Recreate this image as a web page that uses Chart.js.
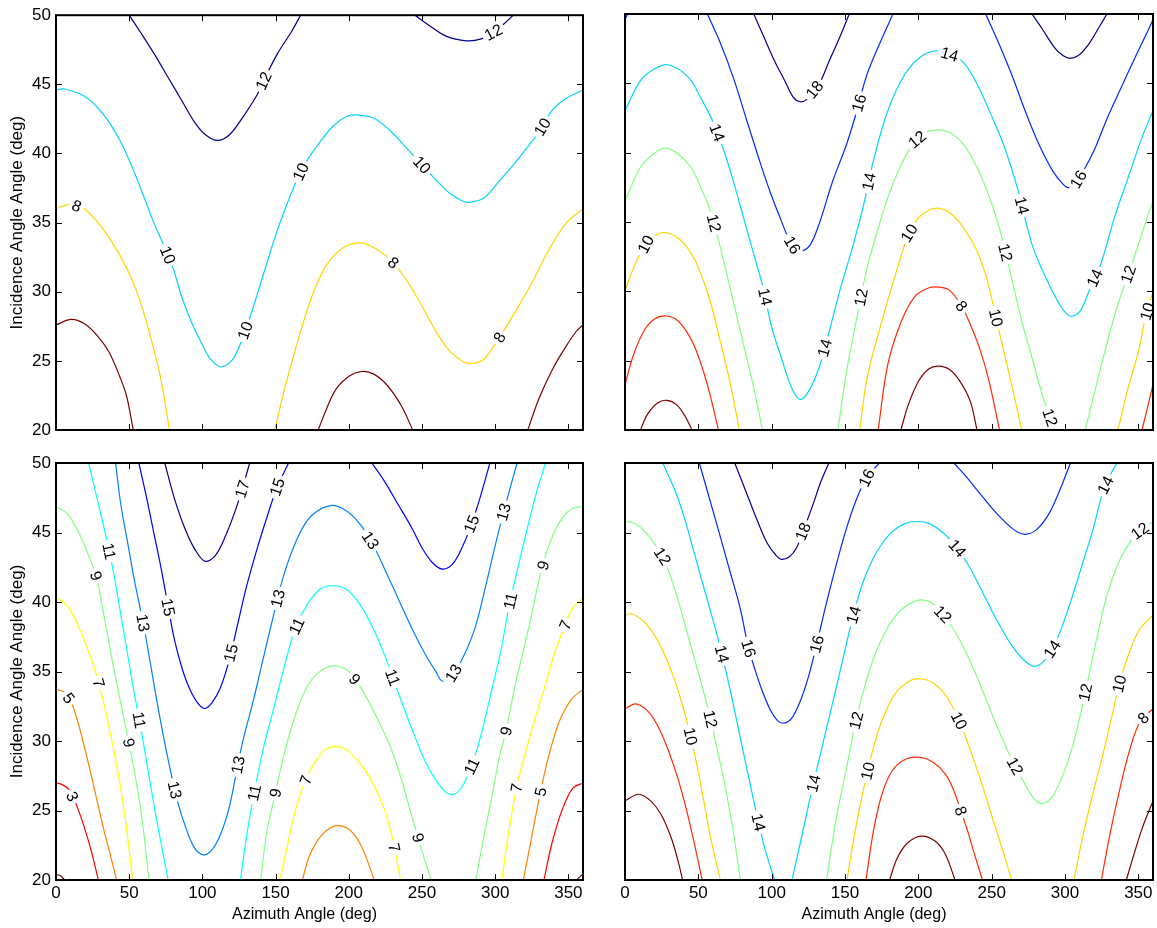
<!DOCTYPE html>
<html><head><meta charset="utf-8">
<script src="https://cdn.jsdelivr.net/npm/chart.js@4.4.0/dist/chart.umd.min.js"></script>
<style>
html,body{margin:0;padding:0;background:#fff;width:1157px;height:928px;overflow:hidden}
canvas{position:absolute;left:0;top:0}
</style></head><body>
<canvas id="c1" width="1157" height="928"></canvas>
<canvas id="c2" width="1157" height="928"></canvas>
<canvas id="c3" width="1157" height="928"></canvas>
<canvas id="c4" width="1157" height="928"></canvas>
<script>
// ---------- axis ticks / titles ----------
const xTickValues = [0, 50, 100, 150, 200, 250, 300, 350];
const yTickValues = [20, 25, 30, 35, 40, 45, 50];
const xTitle = 'Azimuth Angle (deg)';
const yTitle = 'Incidence Angle Angle (deg)';

// ---------- panel 1 (top-left) contours: [azimuth, incidence] ----------
const p1_6a = [[0,27.6],[10.6,28.0],[20,27.64],[29.3,26.68],[36.4,25.6],[43.4,23.9],[48.1,22.5],[52.8,20]];
const p1_6b = [[179.1,20],[184.3,21.4],[191.3,22.96],[200.7,23.92],[208.9,24.23],[217.1,24.04],[226.5,23.2],[235.9,21.75],[243.7,20]];
const p1_6c = [[322.3,20],[329.8,22.24],[339.2,24.4],[348.6,26.08],[355.6,27.16],[360,27.6]];
const p1_8a = [[0,36.0],[6,36.25],[12,36.3],[20,35.95],[31.7,34.6],[43.4,32.7],[52.8,30.65],[59.9,28.5],[66.9,25.8],[71.6,23.7],[77.5,20]];
const p1_8b = [[149.5,20],[156.1,22.96],[165.5,26.56],[174.9,29.69],[184.3,31.85],[196.0,33.17],[207.7,33.53],[219.5,33.05],[230.5,32.09],[240.6,30.65],[250.0,28.97],[259.4,27.16],[268.8,25.72],[278.2,24.93],[284.0,24.81],[292.3,25.12],[302.8,26.68],[313.4,28.49],[325.1,30.65],[336.9,33.05],[348.6,34.98],[360,36.0]];
const p1_10 = [[0,44.59],[5.9,44.66],[20.0,44.11],[31.7,42.91],[43.4,40.99],[52.8,38.82],[59.9,36.9],[66.9,34.98],[73.9,33.29],[80.3,31.61],[85.7,29.69],[92.7,27.76],[99.8,26.2],[105.6,25.12],[112.7,24.57],[120.9,25.12],[127.9,26.8],[135.0,28.97],[142.0,31.37],[151.4,34.5],[160.8,37.14],[167.8,38.82],[177.2,40.38],[189.0,41.95],[198.4,42.67],[205.4,42.79],[217.1,42.55],[228.9,41.59],[240.6,40.26],[250.0,39.18],[259.4,38.1],[268.8,37.14],[278.2,36.54],[283.3,36.47],[292.3,36.78],[301.6,37.86],[313.4,39.3],[325.1,40.87],[331.0,41.7],[339.2,43.15],[348.6,43.99],[360,44.59]];
const p1_12a = [[50.0,50],[57.5,48.8],[66.9,47.24],[76.3,45.55],[85.7,43.87],[95.1,42.19],[102.1,41.35],[110.3,40.94],[118.5,41.35],[127.9,42.67],[137.3,44.23],[142.0,45.31],[151.4,47.24],[160.8,48.8],[167.1,50]];
const p1_12b = [[245.3,50],[254.7,49.28],[266.4,48.49],[280.5,48.15],[289.9,48.27],[299.3,48.8],[306.3,49.4],[312.2,50]];
// [level, azimuth, incidence]
const p1Labels = [[12,140.8,45.3],[12,298.1,48.9],[10,77.5,32.7],[10,129.1,27.2],[10,166.7,38.7],[10,251.2,39.3],[10,331.0,42.0],[8,14.1,36.2],[8,230.5,32.1],[8,302.8,26.7]];

// ---------- panel 2 (top-right) ----------
const p2_18a = [[87.8,50],[94.8,48.32],[101.9,46.63],[108.9,45.19],[114.8,43.98],[119.4,43.67],[124.1,43.86],[132.3,44.95],[139.3,46.63],[146.4,48.32],[152.9,50]];
const p2_18b = [[277.5,50],[284.5,48.92],[292.7,47.6],[298.6,47.0],[303.3,46.8],[309.1,47.0],[316.2,47.83],[323.2,49.04],[328.6,50]];
const p2_16a = [[56.2,50],[64.4,48.07],[73.8,45.43],[83.1,42.3],[92.5,39.17],[99.5,37.0],[106.6,35.08],[111.2,33.87],[115.5,33.1],[120.6,32.91],[126.5,33.39],[132.3,34.84],[141.7,37.97],[151.1,40.61],[158.1,43.02],[165.1,45.67],[174.5,48.07],[182.7,50]];
const p2_16b = [[245.9,50],[254.1,48.07],[263.5,45.67],[272.8,43.02],[282.2,40.61],[291.6,38.69],[298.6,37.73],[302.1,37.48],[307,37.7],[312.6,38.69],[319.7,40.13],[329.0,42.54],[338.4,44.71],[347.8,46.87],[357.1,48.92],[360,49.6]];
const p2_16c = [[0,49.6],[1.8,50]];
const p2_14 = [[0,43.02],[10.5,45.19],[19.9,46.03],[29.3,46.34],[43.3,45.43],[52.7,43.74],[59.7,42.3],[66.7,40.37],[73.8,37.97],[80.8,35.32],[87.8,32.67],[94.8,30.02],[99.5,27.62],[106.6,25.21],[113.6,23.05],[119.4,22.2],[125.3,22.8],[132.3,24.49],[139.3,27.14],[146.4,30.02],[155.7,33.39],[162.8,36.28],[169.8,39.6],[179.2,43.02],[190.9,45.67],[202.6,46.99],[213.1,47.35],[221.3,47.1],[230.7,46.51],[240.0,44.95],[249.4,42.78],[258.8,40.37],[268.1,37.24],[277.5,33.39],[286.9,30.99],[296.3,29.06],[303.3,28.22],[310.3,28.58],[317.3,30.26],[324.4,31.95],[333.7,35.32],[343.1,38.21],[352.5,41.1],[360,43.02]];
const p2_12a = [[0,36.5],[10.5,38.93],[19.9,39.94],[28.8,40.33],[43.3,39.17],[52.7,37.24],[59.7,35.32],[66.7,32.43],[73.8,29.3],[80.8,26.17],[87.8,23.05],[93.7,20]];
const p2_12b = [[145.2,20],[151.1,24.24],[158.1,28.1],[165.1,31.71],[172.1,34.36],[179.2,36.76],[188.5,39.17],[197.9,40.85],[204.9,41.46],[213.1,41.65],[221.3,41.46],[230.7,40.61],[240.0,38.93],[249.4,36.52],[256.4,34.12],[263.5,30.99],[270.5,27.86],[277.5,25.21],[284.5,22.56],[292.7,20]];
const p2_12c = [[313.8,20],[322,23.5],[329,26.4],[336.1,29.06],[343.1,31.2],[350.1,33.4],[356,35.3],[360,36.5]];
const p2_10a = [[0,30.02],[5.9,31.71],[14.1,33.39],[19.9,34.0],[28.1,34.24],[38.6,33.63],[48.0,32.19],[57.4,29.54],[64.4,26.65],[71.4,23.53],[78.0,20]];
const p2_10b = [[160.0,20],[165.1,23.77],[174.5,27.62],[183.8,30.99],[193.2,34.12],[200.2,35.32],[207.3,35.85],[213.8,35.99],[221.3,35.68],[230.7,34.6],[240.0,32.91],[247.1,30.75],[252.9,28.1],[258.8,25.45],[264.6,22.8],[270.5,20]];
const p2_10c = [[336.1,20],[343.1,23.05],[350.1,25.69],[354.8,28.1],[360,30.02]];
const p2_8a = [[0,23.29],[5.9,25.45],[12.9,27.14],[19.9,27.98],[28.1,28.22],[36.3,27.86],[45.7,26.41],[52.7,24.49],[58.5,22.32],[63.7,20]];
const p2_8b = [[172.6,20],[179.2,24.73],[188.5,27.86],[197.9,29.66],[207.3,30.26],[213.8,30.31],[221.3,30.07],[229.5,28.94],[235.4,27.62],[242.4,25.69],[248.2,23.53],[255.3,20]];
const p2_8c = [[352.5,20],[356.2,21.6],[360,23.29]];
const p2_6a = [[10.5,20],[15.2,21.11],[22.2,21.95],[28.6,22.14],[35.1,21.83],[41.0,20.99],[45.7,20]];
const p2_6b = [[188.1,20],[193.2,21.83],[200.2,23.53],[207.3,24.42],[213.8,24.61],[221.3,24.37],[228.3,23.53],[235.4,22.08],[240.0,20]];
const p2Labels = [[18,128.8,44.58],[16,158.1,43.62],[16,114.8,33.39],[16,309.1,38.09],[14,221.3,47.11],[14,63.2,41.46],[14,163.9,37.97],[14,92.5,29.54],[14,135.8,25.93],[14,269.3,36.16],[14,319.7,30.99],[12,62.1,34.96],[12,199.1,40.97],[12,161.6,29.54],[12,258.8,32.79],[12,289.2,20.88],[12,343.1,31.23],[10,14.1,33.39],[10,193.2,34.24],[10,252.9,28.1],[10,354.8,28.58],[8,229.5,28.94]];

// ---------- panel 3 (bottom-left) ----------
const p3_1a = [[0,20.41],[3.1,20.3],[5.9,20]];
const p3_1b = [[355.6,20],[357.9,20.24],[360,20.41]];
const p3_3a = [[0,26.98],[4.2,26.86],[8.9,26.5],[14.8,25.17],[19.5,23.73],[24.2,22.05],[28.9,20]];
const p3_3b = [[333.3,20],[339.1,22.77],[346.2,25.17],[353.2,26.62],[360,26.98]];
const p3_5a = [[0,33.71],[5.4,33.55],[10,32.9],[14.8,31.43],[20.7,29.02],[26.6,26.38],[32.4,23.73],[37.1,21.81],[41.4,20]];
const p3_5b = [[319.2,20],[323.5,22.3],[327.5,24.5],[331.5,26.6],[336.8,29.0],[343.8,31.4],[352.1,33.0],[360,33.71]];
const p3_5c = [[168.3,20],[173.4,21.81],[181.7,23.25],[191.1,23.9],[200.5,23.61],[208.7,22.41],[217.4,20]];
const p3_7a = [[0,40.28],[5.4,39.97],[12.5,38.89],[19.5,37.2],[25.4,35.5],[30.1,33.8],[34.8,31.7],[39.5,29.3],[44.2,26.6],[48.2,23.7],[52.4,20]];
const p3_7b = [[153.0,20],[158.2,22.53],[164.0,25.17],[171.1,27.34],[178.1,28.66],[184.0,29.38],[191.1,29.62],[198.1,29.38],[207.5,28.42],[216.9,26.86],[224.0,25.17],[228.7,23.49],[232.2,21.81],[235.3,20]];
const p3_7c = [[304.6,20],[308.6,23.01],[314.5,26.62],[320.3,29.02],[327.4,31.67],[334.4,34.07],[340.3,36.24],[346.2,37.92],[353.2,39.61],[360,40.28]];
const p3_9a = [[0,46.87],[7.8,46.34],[14.8,45.14],[21.9,43.46],[27.7,41.77],[31.3,39.85],[36.0,37.2],[40.7,34.56],[45.4,32.15],[50.1,29.74],[54.8,27.1],[59.0,24.21],[63.5,20]];
const p3_9b = [[139.8,20],[144.1,23.49],[149.9,26.26],[155.8,29.02],[162.9,31.67],[171.1,33.83],[179.3,34.92],[188.7,35.4],[198.1,35.16],[205.2,34.32],[212.2,33.11],[220.4,31.43],[228.7,29.5],[235.7,27.34],[242.8,24.69],[247.5,23.01],[252.2,21.33],[256.4,20]];
const p3_9c = [[286.7,20],[292.1,23.01],[298.0,26.14],[302.7,28.78],[307.4,30.71],[313.3,33.83],[319.2,36.48],[325.0,39.13],[330.9,42.01],[338.0,44.42],[346.2,46.1],[353.2,46.75],[360,46.87]];
const p3_11a = [[22.3,50],[28.9,47.07],[34.8,44.42],[39.5,42.01],[44.2,39.13],[48.9,36.24],[53.6,33.35],[58.3,30.71],[63.0,27.82],[67.7,24.93],[72.4,22.29],[76.6,20]];
const p3_11b = [[126.0,20],[130.0,23.01],[134.7,25.9],[141.7,29.5],[148.8,32.39],[155.8,35.28],[162.9,37.92],[171.1,39.73],[180.5,40.93],[188.7,41.17],[198.1,40.93],[207.5,39.85],[216.9,38.04],[225.1,36.0],[233.4,33.59],[242.8,30.95],[252.2,28.54],[261.6,26.86],[269.8,26.14],[276.8,26.62],[283.9,28.18],[291.0,30.71],[298.0,33.83],[303.9,36.48],[309.8,39.85],[315.6,42.49],[322.7,45.62],[328.6,48.03],[334.4,50]];
const p3_13 = [[40.7,50],[44.2,47.07],[48.9,44.3],[53.6,41.53],[59.5,38.53],[64.2,35.76],[68.9,32.87],[73.6,30.23],[78.3,27.82],[83.0,25.66],[88.8,23.73],[94.7,22.29],[100.6,21.81],[106.5,22.17],[112.3,23.25],[118.2,25.17],[122.9,27.58],[127.6,29.99],[134.7,32.87],[141.7,36.0],[148.8,39.13],[155.8,42.01],[165.2,44.66],[174.6,46.22],[187.5,46.94],[198.1,46.58],[207.5,45.62],[215.7,44.3],[224.0,42.49],[233.4,40.33],[242.8,38.16],[252.2,36.24],[259.2,35.04],[263.9,34.32],[271.0,34.8],[278.0,36.0],[286.3,38.16],[293.3,41.05],[299.2,43.7],[305.1,46.22],[309.8,48.03],[315.0,50]];
const p3_15a = [[56.6,50],[61.8,47.55],[66.5,45.14],[71.2,42.74],[75.9,40.09],[80.6,37.44],[85.3,35.52],[90.0,34.07],[95.9,32.87],[101.3,32.34],[106.5,32.75],[112.3,33.83],[118.2,35.76],[124.1,38.41],[130.0,41.05],[137.0,43.7],[144.1,46.1],[151.1,48.27],[158.9,50]];
const p3_15b = [[215.7,50],[224.0,48.75],[233.4,47.07],[242.8,45.38],[249.8,43.94],[256.9,42.86],[263.9,42.37],[271.0,42.74],[278.0,44.06],[283.9,45.62],[289.8,47.55],[296.4,50]];
const p3_17 = [[74.3,50],[80.6,47.55],[87.7,45.38],[94.7,43.82],[101.8,42.93],[108.8,43.34],[115.9,44.78],[122.9,46.7],[127.6,48.27],[132.3,50]];
const p3Labels = [[17,126.4,48.15],[15,151.1,48.27],[15,75.9,39.61],[15,118.2,36.36],[15,283.9,45.62],[13,60.6,38.53],[13,81.8,26.5],[13,122.9,28.3],[13,148.8,40.33],[13,214.6,44.42],[13,271.0,34.92],[13,306.2,46.46],[11,38.3,43.7],[11,59.5,31.55],[11,135.8,26.26],[11,164.0,38.28],[11,229.8,34.56],[11,283.9,28.18],[11,309.8,40.09],[9,27.7,41.89],[9,50.1,29.87],[9,149.9,26.26],[9,204.0,34.44],[9,246.3,23.01],[9,307.4,30.71],[9,333.3,42.61],[7,30.1,34.2],[7,169.9,27.22],[7,229.8,22.29],[7,314.5,26.62],[7,343.8,38.53],[5,8.9,33.11],[5,329.7,26.38],[3,11.3,26.02]];

// ---------- panel 4 (bottom-right) ----------
const p4_18 = [[74.8,50],[82.9,47.83],[90.0,45.91],[97.0,44.22],[102.8,43.38],[106.8,43.07],[112.1,43.26],[116.8,43.86],[122.7,45.43],[128.5,47.11],[133.2,48.56],[139.0,50]];
const p4_16a = [[50.7,50],[57.2,47.59],[64.3,44.95],[71.3,42.3],[78.3,39.65],[84.1,36.76],[88.8,35.08],[93.5,33.63],[99.3,32.19],[104.0,31.47],[108.2,31.28],[113.3,31.59],[119.2,32.79],[125.0,34.6],[130.8,37.0],[136.7,39.65],[143.7,42.54],[150.7,45.19],[157.7,47.35],[164.7,48.92],[173.4,50]];
const p4_16b = [[224.3,50],[232.5,49.04],[241.8,47.83],[251.2,46.63],[260.5,45.62],[267.5,45.04],[273.4,44.87],[280.4,45.19],[288.6,46.27],[295.6,47.83],[300.2,49.04],[303.7,50]];
const p4_14a = [[25.7,50],[33.9,48.07],[40.9,45.91],[47.9,43.26],[54.9,40.61],[61.9,37.97],[66.6,36.04],[71.3,33.87],[77.1,30.99],[82.9,28.1],[88.8,25.21],[94.6,22.56],[99.3,20.88],[102.1,20]];
const p4_14b = [[113.8,20],[120.3,23.04],[127.3,26.41],[134.3,29.54],[141.4,32.67],[148.4,35.8],[155.4,38.93],[162.4,41.46],[171.7,43.62],[181.1,44.95],[190.4,45.62],[199.3,45.79],[207.9,45.62],[217.3,44.95],[226.6,43.86],[234.8,42.54],[244.2,40.61],[253.5,38.69],[262.9,37.0],[271.0,35.92],[279.2,35.37],[286.2,35.8],[292.1,36.76],[297.9,38.21],[304.9,40.37],[312.0,42.78],[319.0,45.19],[327.1,48.32],[335.3,50]];
const p4_12a = [[0,45.79],[4.7,45.74],[10.5,45.38],[17.5,44.58],[25.7,43.26],[30.4,42.06],[36.2,40.13],[43.2,37.48],[50.2,34.84],[57.2,32.07],[63.1,29.3],[68.9,26.41],[74.1,23.29],[78.7,20]];
const p4_12b = [[137.4,20],[143.7,24.24],[150.7,27.86],[156.5,30.99],[162.4,33.51],[169.4,35.92],[178.7,38.09],[188.1,39.41],[200.2,40.13],[209.1,39.94],[217.3,39.05],[227.8,37.36],[237.1,35.32],[246.5,32.91],[255.8,30.5],[265.2,28.34],[273.4,26.77],[279.2,25.81],[284.3,25.5],[290.9,25.93],[297.9,27.38],[304.9,29.54],[310.7,31.95],[316.6,34.84],[322.4,37.73],[328.3,40.37],[335.3,42.54],[342.3,43.98],[350.5,45.07],[360,45.79]];
const p4_10a = [[0,39.05],[3.5,39.17],[10.5,38.81],[18.7,37.85],[25.7,36.52],[32.7,34.72],[38.6,32.79],[44.4,30.5],[49.1,28.22],[53.7,25.69],[58.4,23.04],[65.0,20]];
const p4_10b = [[151.4,20],[156.5,23.29],[162.4,26.41],[168.2,29.06],[175.2,31.47],[183.4,33.27],[192.8,34.24],[200.9,34.48],[210.3,34.16],[219.6,33.15],[227.8,31.47],[234.8,29.54],[243.0,27.02],[251.2,24.24],[257.0,22.32],[263.6,20]];
const p4_10c = [[306.1,20],[311.9,23.04],[318.9,26.17],[325.9,29.06],[331.8,31.71],[337.6,34.36],[343.5,36.28],[350.5,37.97],[360,39.05]];
const p4_8a = [[0,32.31],[7.0,32.67],[15.2,32.19],[22.2,31.11],[29.2,29.42],[36.2,27.26],[42.1,24.97],[47.4,22.56],[52.6,20]];
const p4_8b = [[164.3,20],[169.4,23.53],[175.2,26.17],[182.2,27.86],[191.6,28.7],[201.6,28.82],[210.3,28.46],[218.5,27.62],[224.3,26.41],[229.0,24.97],[233.6,23.53],[238.3,21.84],[243.7,20]];
const p4_8c = [[324.8,20],[330.6,23.27],[337.6,26.65],[344.6,29.54],[351.6,31.47],[360,32.31]];
const p4_6a = [[0,25.69],[9.3,26.17],[17.5,25.69],[24.5,24.73],[31.5,23.04],[36.2,21.36],[39.3,20]];
const p4_6b = [[180.4,20],[185.7,21.6],[192.8,22.68],[202.1,23.16],[211.4,22.8],[218.5,21.84],[225.0,20]];
const p4_6c = [[341.8,20],[347.0,21.84],[352.8,23.77],[360,25.69]];
const p4Labels = [[18,121.5,45.07],[16,164.7,48.92],[16,84.1,36.64],[16,129.7,37.0],[14,66.6,36.28],[14,90.0,24.13],[14,130.8,26.89],[14,156.5,39.05],[14,226.6,43.86],[14,290.9,36.64],[14,327.1,48.44],[12,26.9,43.38],[12,58.4,31.59],[12,157.7,31.47],[12,217.3,39.17],[12,266.4,28.22],[12,313.1,33.51],[12,350.5,45.19],[10,46.7,30.38],[10,164.7,27.86],[10,227.8,31.47],[10,336.4,34.12],[8,229.0,24.97],[8,354.0,31.59]];

// ---------- colours per level (reversed jet) ----------
const colors7 = {6:'#800000',8:'#ff2a00',10:'#ffd400',12:'#80ff80',14:'#00d4ff',16:'#002aff',18:'#00008f'};
const colors4 = {6:'#800000',8:'#ffd400',10:'#00d4ff',12:'#00008f'};
const colors9 = {1:'#800000',3:'#ff0000',5:'#ff8000',7:'#ffff00',9:'#80ff80',11:'#00ffff',13:'#0080ff',15:'#0000ff',17:'#00008f'};

const FONT = "'Liberation Sans', Arial, Helvetica, sans-serif";
const W = 1157, H = 928;

const axesBox = {
  id: 'axesBox',
  afterDraw(chart) {
    const {ctx, chartArea: a, scales: {x, y}} = chart;
    ctx.save();
    ctx.strokeStyle = '#000';
    ctx.lineWidth = 1;
    ctx.beginPath();
    x.ticks.forEach(t => {
      const px = Math.round(x.getPixelForValue(t.value)) + 0.5;
      ctx.moveTo(px, a.bottom); ctx.lineTo(px, a.bottom - 6);
      ctx.moveTo(px, a.top); ctx.lineTo(px, a.top + 6);
    });
    y.ticks.forEach(t => {
      const py = Math.round(y.getPixelForValue(t.value)) + 0.5;
      ctx.moveTo(a.left, py); ctx.lineTo(a.left + 6, py);
      ctx.moveTo(a.right, py); ctx.lineTo(a.right - 6, py);
    });
    ctx.stroke();
    ctx.lineWidth = 2;
    ctx.strokeRect(a.left, a.top, a.right - a.left, a.bottom - a.top);
    // x-axis title (bottom panels), slightly left of centre as in the original
    const xt = chart.options.plugins.axesBox;
    if (xt && xt.xTitle) {
      ctx.fillStyle = '#000';
      ctx.font = '16px ' + FONT;
      ctx.textAlign = 'center';
      ctx.textBaseline = 'middle';
      ctx.fillText(xt.xTitle, (a.left + a.right) / 2 - 15, a.bottom + 35);
    }
    ctx.restore();
  }
};

const contourLabels = {
  id: 'contourLabels',
  afterDatasetsDraw(chart) {
    const cfg = chart.options.plugins.contourLabels;
    if (!cfg) return;
    const {ctx, scales: {x, y}} = chart;
    ctx.save();
    ctx.font = '16px ' + FONT;
    ctx.textAlign = 'center';
    ctx.textBaseline = 'middle';
    for (const [lvl, az, inc] of cfg.labels) {
      const px = x.getPixelForValue(az), py = y.getPixelForValue(inc);
      let best = null;
      for (const [l, pts] of cfg.lines) {
        if (l !== lvl) continue;
        for (let i = 0; i < pts.length - 1; i++) {
          const ax = x.getPixelForValue(pts[i][0]), ay = y.getPixelForValue(pts[i][1]);
          const bx = x.getPixelForValue(pts[i+1][0]), by = y.getPixelForValue(pts[i+1][1]);
          const dx = bx - ax, dy = by - ay, L2 = dx*dx + dy*dy;
          let t = L2 ? ((px-ax)*dx + (py-ay)*dy) / L2 : 0;
          t = Math.max(0, Math.min(1, t));
          const qx = ax + t*dx, qy = ay + t*dy;
          const d = (qx-px)*(qx-px) + (qy-py)*(qy-py);
          if (!best || d < best.d) best = {d, qx, qy, ang: Math.atan2(dy, dx)};
        }
      }
      if (!best) continue;
      let a = best.ang;
      if (a > Math.PI/2) a -= Math.PI;
      if (a < -Math.PI/2) a += Math.PI;
      const txt = String(lvl);
      const w = ctx.measureText(txt).width;
      ctx.save();
      ctx.translate(best.qx, best.qy);
      ctx.rotate(a);
      ctx.fillStyle = '#fff';
      ctx.fillRect(-w/2 - 3, -6, w + 6, 12);
      ctx.fillStyle = '#000';
      ctx.fillText(txt, 0, 1);
      ctx.restore();
    }
    ctx.restore();
  }
};

function makePanel(id, area, lines, labels, colors, showX, showY) {
  const yW = showY ? 56 : 0;
  const xH = showX ? 48 : 0;
  const datasets = lines.map(([lvl, pts]) => ({
    data: pts.map(p => ({x: p[0], y: p[1]})),
    borderColor: colors[lvl],
    borderWidth: 1.2,
    pointRadius: 0,
    showLine: true,
    tension: 0.35,
    fill: false,
    clip: 0
  }));
  new Chart(document.getElementById(id), {
    type: 'scatter',
    data: {datasets},
    plugins: [contourLabels, axesBox],
    options: {
      responsive: false,
      animation: false,
      events: [],
      devicePixelRatio: 1,
      layout: {padding: {left: area.l - yW, top: area.t, right: W - area.r, bottom: H - area.b - xH}},
      plugins: {legend: {display: false}, tooltip: {enabled: false},
        contourLabels: {labels, lines},
        axesBox: {xTitle: showX ? xTitle : null}},
      scales: {
        x: {
          type: 'linear', min: 0, max: 360,
          afterFit(s) { s.height = xH; },
          afterBuildTicks(s) { s.ticks = xTickValues.map(v => ({value: v})); },
          grid: {display: false, drawTicks: false},
          border: {display: false},
          ticks: {display: showX, autoSkip: false, maxRotation: 0, padding: 3, color: '#000',
            font: {family: FONT, size: 17}},
          title: {display: false}
        },
        y: {
          type: 'linear', min: 20, max: 50,
          afterFit(s) { s.width = yW; },
          afterBuildTicks(s) { s.ticks = yTickValues.map(v => ({value: v})); },
          grid: {display: false, drawTicks: false},
          border: {display: false},
          ticks: {display: showY, autoSkip: false, padding: 5, color: '#000',
            font: {family: FONT, size: 17}},
          title: {display: showY, text: yTitle, color: '#000', font: {family: FONT, size: 17},
            padding: {top: 7, bottom: 0}}
        }
      }
    }
  });
}

makePanel('c1', {l:56, t:14, r:583, b:430},
  [[6,p1_6a],[6,p1_6b],[6,p1_6c],[8,p1_8a],[8,p1_8b],[10,p1_10],[12,p1_12a],[12,p1_12b]],
  p1Labels, colors4, false, true);
makePanel('c2', {l:625, t:14, r:1153, b:430},
  [[6,p2_6a],[6,p2_6b],[8,p2_8a],[8,p2_8b],[8,p2_8c],[10,p2_10a],[10,p2_10b],[10,p2_10c],[12,p2_12a],[12,p2_12b],[12,p2_12c],[14,p2_14],[16,p2_16a],[16,p2_16b],[16,p2_16c],[18,p2_18a],[18,p2_18b]],
  p2Labels, colors7, false, false);
makePanel('c3', {l:56, t:463, r:583, b:880},
  [[1,p3_1a],[1,p3_1b],[3,p3_3a],[3,p3_3b],[5,p3_5a],[5,p3_5b],[5,p3_5c],[7,p3_7a],[7,p3_7b],[7,p3_7c],[9,p3_9a],[9,p3_9b],[9,p3_9c],[11,p3_11a],[11,p3_11b],[13,p3_13],[15,p3_15a],[15,p3_15b],[17,p3_17]],
  p3Labels, colors9, true, true);
makePanel('c4', {l:625, t:463, r:1153, b:880},
  [[6,p4_6a],[6,p4_6b],[6,p4_6c],[8,p4_8a],[8,p4_8b],[8,p4_8c],[10,p4_10a],[10,p4_10b],[10,p4_10c],[12,p4_12a],[12,p4_12b],[14,p4_14a],[14,p4_14b],[16,p4_16a],[16,p4_16b],[18,p4_18]],
  p4Labels, colors7, true, false);
</script>
</body></html>
